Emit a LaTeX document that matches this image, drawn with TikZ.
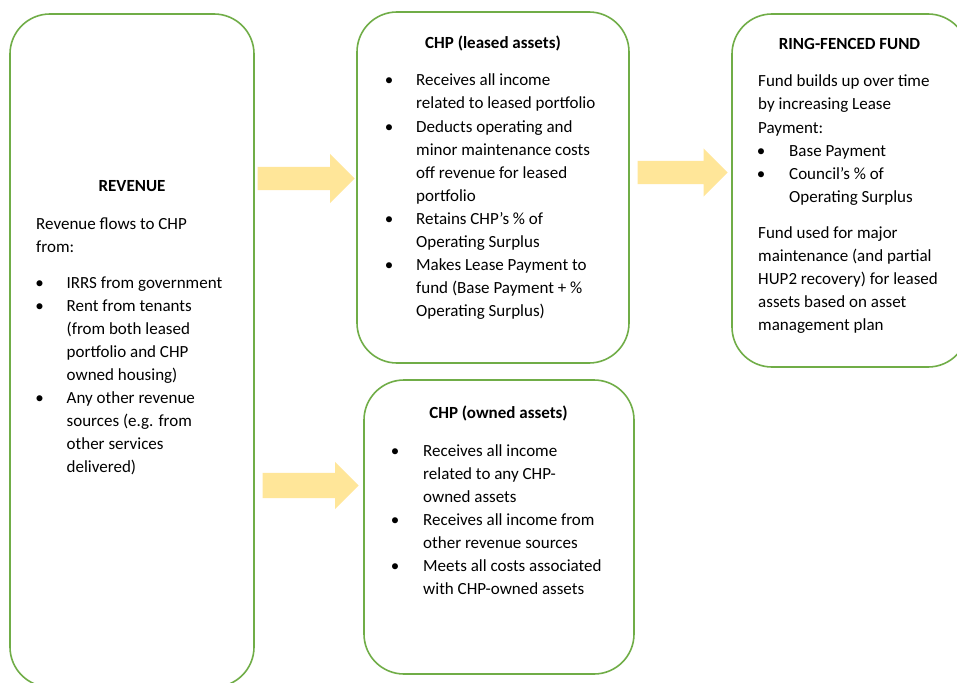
\documentclass[tikz,border=0pt]{standalone}
\usepackage{fontspec}
\setmainfont{Carlito}
\usetikzlibrary{shapes.arrows}
\definecolor{boxgreen}{HTML}{70AD47}
\definecolor{arrowyellow}{HTML}{FFE699}
\tikzset{
  box/.style={rectangle, draw=boxgreen, line width=1.6pt, rounded corners=40pt, inner sep=0pt},
  txt/.style={anchor=base west, inner sep=0pt, font=\fontsize{17}{23}\selectfont},
  headtxt/.style={anchor=base, inner sep=0pt, font=\fontsize{17}{23}\selectfont\bfseries},
  bul/.style={anchor=base, inner sep=0pt, font=\fontsize{17}{23}\selectfont},
  blockarrow/.style={single arrow, fill=arrowyellow, draw=none, inner xsep=0pt, single arrow tip angle=90, anchor=tip}
}
\begin{document}
\begin{tikzpicture}[x=1pt,y=-1pt]
\useasboundingbox (0,0) rectangle (957,682);
\clip (0,0) rectangle (957,682);
\fill[white] (0,0) rectangle (957,682);
% boxes
\node[box, minimum width=244pt, minimum height=673pt] (rev) at (132,350.5) {};
\node[box, minimum width=272pt, minimum height=351pt] (leased) at (493,187.5) {};
\node[box, minimum width=236pt, minimum height=353pt] (fund) at (850,190.5) {};
\node[box, minimum width=270pt, minimum height=294pt] (owned) at (499,527) {};
% arrows
\node[blockarrow, minimum height=97pt, inner ysep=11.5pt, single arrow head extend=13pt] (a1) at (355,178.5) {};
\node[blockarrow, minimum height=90pt, inner ysep=11.5pt, single arrow head extend=12.5pt] (a2) at (728,172.5) {};
\node[blockarrow, minimum height=96pt, inner ysep=12.5pt, single arrow head extend=11pt] (a3) at (359,485.5) {};
% REVENUE box text
\node[headtxt] (rh) at (132,191) {REVENUE};
\node[txt] (r1) at (36,229) {Revenue flows to CHP};
\node[txt] (r2) at (36,252) {from:};
\node[bul] (rb1) at (39.7,288) {•};
\node[txt] (r3) at (66.5,288) {IRRS from government};
\node[bul] (rb2) at (39.7,311) {•};
\node[txt] (r4) at (66.5,311) {Rent from tenants};
\node[txt] (r5) at (66.5,334) {(from both leased};
\node[txt] (r6) at (66.5,357) {portfolio and CHP};
\node[txt] (r7) at (66.5,380) {owned housing)};
\node[bul] (rb3) at (39.7,403) {•};
\node[txt] (r8) at (66.5,403) {Any other revenue};
\node[txt] (r9) at (66.5,426) {sources (e.g. from};
\node[txt] (r10) at (66.5,449) {other services};
\node[txt] (r11) at (66.5,472) {delivered)};
% CHP leased
\node[headtxt] (lh) at (493,48.5) {CHP (leased assets)};
\node[bul] (lb1) at (389,86) {•};
\node[txt] (l1) at (416,86) {Receives all income};
\node[txt] (l2) at (416,109) {related to leased portfolio};
\node[bul] (lb2) at (389,132) {•};
\node[txt] (l3) at (416,132) {Deducts operating and};
\node[txt] (l4) at (416,155) {minor maintenance costs};
\node[txt] (l5) at (416,178) {off revenue for leased};
\node[txt] (l6) at (416,201) {portfolio};
\node[bul] (lb3) at (389,224) {•};
\node[txt] (l7) at (416,224) {Retains CHP’s \% of};
\node[txt] (l8) at (416,247) {Operating Surplus};
\node[bul] (lb4) at (389,270) {•};
\node[txt] (l9) at (416,270) {Makes Lease Payment to};
\node[txt] (l10) at (416,293) {fund (Base Payment + \%};
\node[txt] (l11) at (416,316) {Operating Surplus)};
% Ring-fenced fund
\node[headtxt] (fh) at (849.5,50) {RING-FENCED FUND};
\node[txt] (f1) at (758,87) {Fund builds up over time};
\node[txt] (f2) at (758,110) {by increasing Lease};
\node[txt] (f3) at (758,133) {Payment:};
\node[bul] (fb1) at (761,156) {•};
\node[txt] (f4) at (789,156) {Base Payment};
\node[bul] (fb2) at (761,179) {•};
\node[txt] (f5) at (789,179) {Council’s \% of};
\node[txt] (f6) at (789,202) {Operating Surplus};
\node[txt] (f7) at (758,238) {Fund used for major};
\node[txt] (f8) at (758,261) {maintenance (and partial};
\node[txt] (f9) at (758,284) {HUP2 recovery) for leased};
\node[txt] (f10) at (758,307) {assets based on asset};
\node[txt] (f11) at (758,330) {management plan};
% CHP owned
\node[headtxt] (oh) at (498.5,418) {CHP (owned assets)};
\node[bul] (ob1) at (395,456) {•};
\node[txt] (o1) at (423,456) {Receives all income};
\node[txt] (o2) at (423,479) {related to any CHP-};
\node[txt] (o3) at (423,502) {owned assets};
\node[bul] (ob2) at (395,525) {•};
\node[txt] (o4) at (423,525) {Receives all income from};
\node[txt] (o5) at (423,548) {other revenue sources};
\node[bul] (ob3) at (395,571) {•};
\node[txt] (o6) at (423,571) {Meets all costs associated};
\node[txt] (o7) at (423,594) {with CHP-owned assets};
\end{tikzpicture}
\end{document}
